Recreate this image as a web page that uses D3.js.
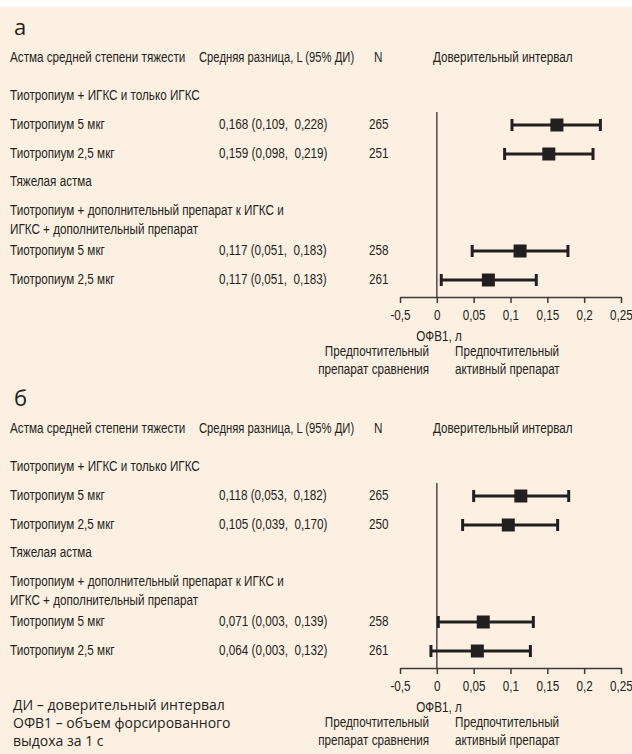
<!DOCTYPE html>
<html>
<head>
<meta charset="utf-8">
<script src="https://cdn.jsdelivr.net/npm/d3@7"></script>
<style>
  body { margin: 0; background: #fff; }
</style>
</head>
<body>
<script>
/**
 * Forest plot, two panels (а, б)
 */

const WIDTH = 632;
const HEIGHT = 754;

const BG = "#fcf0e3";
const INK = "#231f20";
// no condensed face installed: squeeze Liberation Sans horizontally instead
const NARROW = "'Liberation Sans', Arial, sans-serif";
const SQUEEZE = 0.78;
const WIDE = "'Open Sans', 'Noto Sans', sans-serif";

// data
const panelLetters = ["а", "б"];
const headers = ["Астма средней степени тяжести", "Средняя разница, L (95% ДИ)", "N", "Доверительный интервал"];
const groupLabels = ["Тиотропиум + ИГКС и только ИГКС", "Тяжелая астма",
                     "Тиотропиум + дополнительный препарат к ИГКС и", "ИГКС + дополнительный препарат"];
const rowLabels = ["Тиотропиум 5 мкг", "Тиотропиум 2,5 мкг", "Тиотропиум 5 мкг", "Тиотропиум 2,5 мкг"];

const diffTextA = ["0,168 (0,109,  0,228)", "0,159 (0,098,  0,219)", "0,117 (0,051,  0,183)", "0,117 (0,051,  0,183)"];
const nA = [265, 251, 258, 261];
const estA = [0.163, 0.152, 0.113, 0.070];   // as drawn in the picture
const loA = [0.102, 0.092, 0.048, 0.006];
const hiA = [0.222, 0.212, 0.178, 0.135];

const diffTextB = ["0,118 (0,053,  0,182)", "0,105 (0,039,  0,170)", "0,071 (0,003,  0,139)", "0,064 (0,003,  0,132)"];
const nB = [265, 250, 258, 261];
const estB = [0.114, 0.097, 0.063, 0.055];
const loB = [0.050, 0.035, 0.002, -0.008];
const hiB = [0.179, 0.164, 0.131, 0.127];

const tickValues = [-0.05, 0, 0.05, 0.1, 0.15, 0.2, 0.25];
const tickLabels = ["-0,5", "0", "0,05", "0,1", "0,15", "0,2", "0,25"];

const axisTitle = "ОФВ1, л";
const sideLabels = [["Предпочтительный", "препарат сравнения"], ["Предпочтительный", "активный препарат"]];
const footnote = ["ДИ – доверительный интервал", "ОФВ1 – объем форсированного", "выдоха за 1 с"];

// layout inside one panel
const PANEL_OFFSET = [0, 371];
const ROW_Y = [124, 153, 250, 279];
const GROUP_Y = [95, 181, 210, 229];
const COL_X = [10, 199, 374, 433];

const x = d3.scaleLinear().domain([-0.05, 0.25]).range([400, 621]);

const svg = d3.select("body").append("svg")
    .attr("width", WIDTH)
    .attr("height", HEIGHT);

svg.append("rect")
    .attr("y", 7)
    .attr("width", WIDTH)
    .attr("height", HEIGHT - 7)
    .attr("fill", BG);

function txt(g, str, xx, yy, opts) {
    opts = opts || {};
    const wide = opts.font === WIDE;
    const sq = opts.squeeze || SQUEEZE;
    return g.append("text")
        .attr("transform", `translate(${xx},${yy})` + (wide ? "" : ` scale(${sq},1)`))
        .attr("dy", "0.35em")
        .attr("fill", INK)
        .attr("font-family", opts.font || NARROW)
        .attr("font-size", opts.size || 15)
        .attr("text-anchor", opts.anchor || "start")
        .style("white-space", "pre")
        .text(str);
}

function drawPanel(p, diffText, ns, est, lo, hi) {
    const g = svg.append("g").attr("transform", `translate(0,${PANEL_OFFSET[p]})`);

    txt(g, panelLetters[p], 14, 27, { font: WIDE, size: 22 });

    // the second header is set tighter in the original
    headers.forEach((h, i) => txt(g, h, COL_X[i], 57, { squeeze: i === 1 ? 0.75 : SQUEEZE }));
    groupLabels.forEach((t, i) => txt(g, t, 10, GROUP_Y[i]));

    rowLabels.forEach((t, i) => {
        txt(g, t, 10, ROW_Y[i]);
        txt(g, diffText[i], 219, ROW_Y[i]);
        txt(g, ns[i], 369, ROW_Y[i]);
    });

    // zero line
    g.append("line")
        .attr("x1", x(0)).attr("x2", x(0))
        .attr("y1", 112).attr("y2", 297)
        .attr("stroke", "#4a4a4a")
        .attr("stroke-width", 1.5);

    // axis
    const ax = g.append("g")
        .attr("transform", "translate(0,297)")
        .call(d3.axisBottom(x)
            .tickValues(tickValues)
            .tickFormat((d, i) => tickLabels[i])
            .tickSize(6)
            .tickSizeOuter(0)
            .tickPadding(6));
    ax.select(".domain").attr("stroke", "#3a3a3a").attr("stroke-width", 1.5);
    ax.selectAll(".tick line").attr("stroke", "#3a3a3a").attr("stroke-width", 1.5);
    ax.selectAll(".tick text")
        .attr("fill", INK)
        .attr("font-family", NARROW)
        .attr("font-size", 15)
        .attr("transform", `scale(${SQUEEZE},1)`);

    txt(g, axisTitle, 439, 336, { anchor: "middle" });
    txt(g, sideLabels[0][0], 429, 351, { anchor: "end" });
    txt(g, sideLabels[0][1], 429, 369, { anchor: "end" });
    txt(g, sideLabels[1][0], 455, 351);
    txt(g, sideLabels[1][1], 455, 369);

    // error bars
    const rows = d3.range(est.length).map(i => ({ y: ROW_Y[i] + 1, e: est[i], l: lo[i], h: hi[i] }));
    const bars = g.selectAll(".ci").data(rows).enter().append("g").attr("class", "ci");
    bars.append("line")
        .attr("x1", d => x(d.l)).attr("x2", d => x(d.h))
        .attr("y1", d => d.y).attr("y2", d => d.y)
        .attr("stroke", INK).attr("stroke-width", 3);
    [d => x(d.l), d => x(d.h)].forEach(fx => {
        bars.append("line")
            .attr("x1", fx).attr("x2", fx)
            .attr("y1", d => d.y - 6).attr("y2", d => d.y + 6)
            .attr("stroke", INK).attr("stroke-width", 3);
    });
    bars.append("rect")
        .attr("x", d => x(d.e) - 6.5)
        .attr("y", d => d.y - 6.5)
        .attr("width", 13).attr("height", 13)
        .attr("fill", INK);
}

drawPanel(0, diffTextA, nA, estA, loA, hiA);
drawPanel(1, diffTextB, nB, estB, loB, hiB);

footnote.forEach((t, i) => txt(svg, t, 13, 705 + i * 18, { font: WIDE, size: 14 }));
</script>
</body>
</html>
